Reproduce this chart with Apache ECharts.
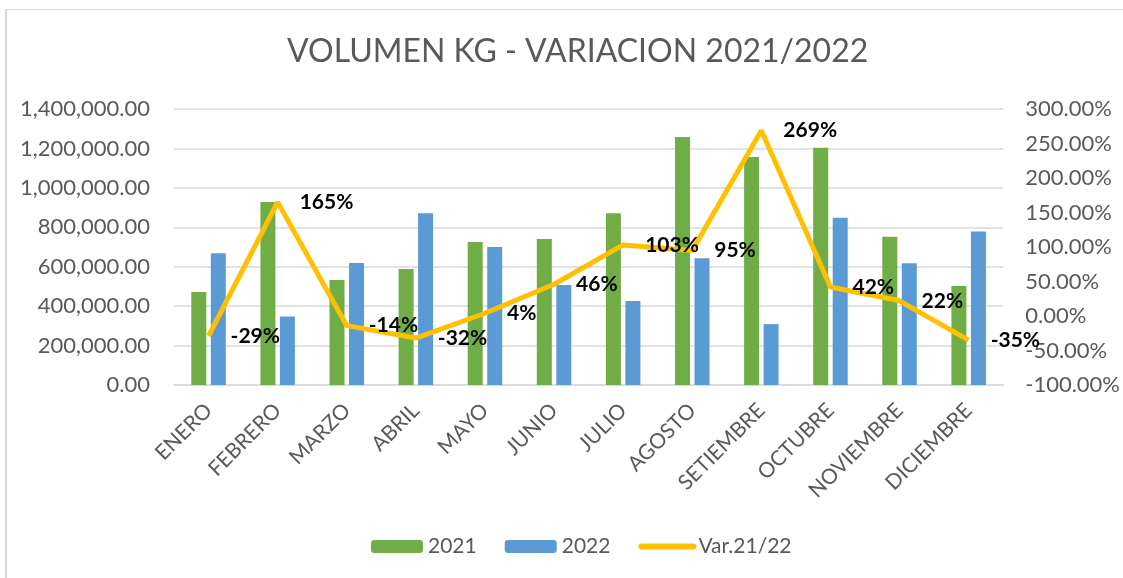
<!DOCTYPE html>
<html>
<head>
<meta charset="utf-8">
<script src="https://cdn.jsdelivr.net/npm/echarts@6/dist/echarts.min.js"></script>
<style>
  html, body { margin: 0; padding: 0; background: #ffffff; }
  #frame { position: absolute; left: 5px; top: 9px; width: 1130px; height: 580px;
           border-left: 2px solid #d9d9d9; border-top: 1px solid #d9d9d9; }
  #chart { position: absolute; left: 0; top: 0; width: 1123px; height: 578px; }
</style>
</head>
<body>
<div id="frame"></div>
<div id="chart"></div>
<script>
const categories = ['ENERO', 'FEBRERO', 'MARZO', 'ABRIL', 'MAYO', 'JUNIO', 'JULIO', 'AGOSTO', 'SETIEMBRE', 'OCTUBRE', 'NOVIEMBRE', 'DICIEMBRE'];
const vol2021 = [472000, 928000, 533000, 589000, 725000, 741000, 871000, 1258000, 1157000, 1204000, 752000, 502000];
const vol2022 = [668000, 347000, 619000, 871000, 700000, 507000, 426000, 643000, 309000, 849000, 617000, 778000];
const variation = [-0.29, 1.65, -0.14, -0.32, 0.04, 0.46, 1.03, 0.95, 2.69, 0.42, 0.22, -0.35];
const seriesNames = ['2021', '2022', 'Var.21/22'];
const titleText = 'VOLUMEN KG - VARIACION 2021/2022';

const FONT = 'Lato';
const GREY = '#595959';

const chart = echarts.init(document.getElementById('chart'), null, { renderer: 'canvas' });
chart.setOption({
  backgroundColor: 'transparent',
  animation: false,
  textStyle: { fontFamily: FONT },
  title: {
    text: titleText,
    left: 282,
    top: 31,
    textStyle: { fontFamily: FONT, fontSize: 32, fontWeight: 'normal', color: GREY }
  },
  legend: {
    data: [
      { name: seriesNames[0] },
      { name: seriesNames[1] },
      { name: seriesNames[2], itemStyle: { opacity: 0 }, lineStyle: { width: 6, cap: 'round' } }
    ],
    bottom: 16,
    left: 366,
    itemWidth: 52,
    itemHeight: 13,
    itemGap: 28,
    textStyle: { fontFamily: FONT, fontSize: 21, color: GREY }
  },
  grid: { left: 174, right: 115, top: 109, bottom: 193, containLabel: false },
  xAxis: {
    type: 'category',
    data: categories,
    axisTick: { show: false },
    axisLine: { lineStyle: { color: '#d9d9d9', width: 1.5 } },
    axisLabel: { interval: 0, rotate: 45, fontFamily: FONT, fontSize: 21, color: GREY, margin: 22 }
  },
  yAxis: [
    {
      type: 'value', min: 0, max: 1400000, interval: 200000,
      axisLine: { show: false }, axisTick: { show: false },
      splitLine: { lineStyle: { color: '#d9d9d9', width: 1.5 } },
      axisLabel: {
        fontFamily: FONT, fontSize: 22, color: GREY, margin: 24,
        formatter: v => v.toLocaleString('en-US', { minimumFractionDigits: 2, maximumFractionDigits: 2 })
      }
    },
    {
      type: 'value', min: -1, max: 3, interval: 0.5,
      axisLine: { show: false }, axisTick: { show: false }, splitLine: { show: false },
      axisLabel: {
        fontFamily: FONT, fontSize: 22, color: GREY, margin: 22,
        formatter: v => (v * 100).toFixed(2) + '%'
      }
    }
  ],
  series: [
    {
      name: seriesNames[0], type: 'bar', data: vol2021,
      barWidth: 15, barGap: '30%',
      itemStyle: { color: '#70AD47' }
    },
    {
      name: seriesNames[1], type: 'bar', data: vol2022,
      barWidth: 15,
      itemStyle: { color: '#5B9BD5' }
    },
    {
      name: seriesNames[2], type: 'line', yAxisIndex: 1, data: variation,
      symbol: 'circle', symbolSize: 0, showSymbol: true, z: 5,
      lineStyle: { color: '#FFC000', width: 5 },
      itemStyle: { color: '#FFC000' },
      labelLayout: { hideOverlap: false },
      label: {
        show: true, position: 'right', distance: 22,
        fontFamily: FONT, fontSize: 21, fontWeight: 'bold', color: '#000000',
        formatter: p => Math.round(p.value * 100) + '%'
      }
    }
  ]
});
</script>
</body>
</html>
